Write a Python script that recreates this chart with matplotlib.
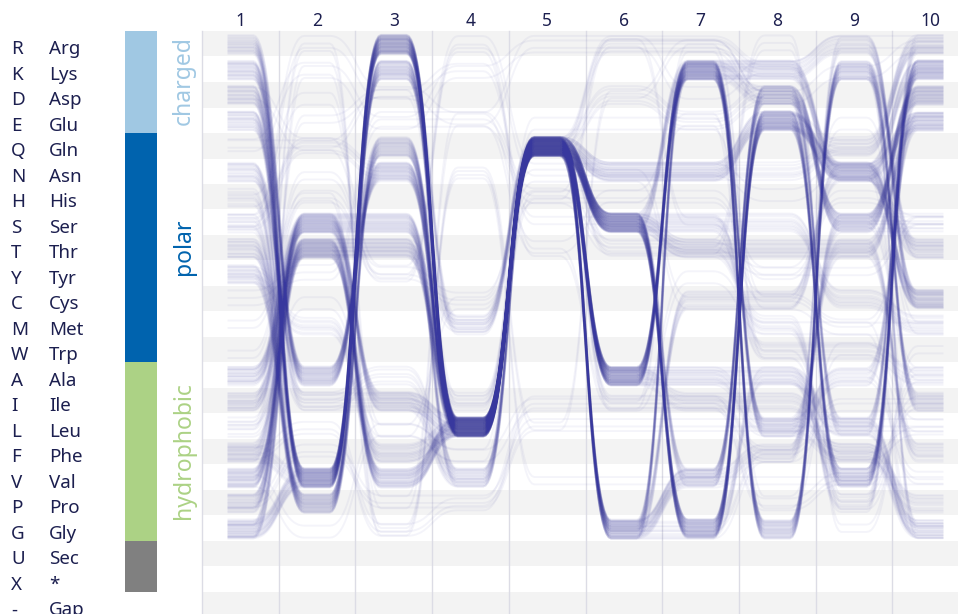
import numpy as np
import matplotlib.pyplot as plt
from matplotlib.collections import LineCollection

plt.rcParams['font.family'] = ['Noto Sans', 'DejaVu Sans']

codes = list("RKDEQNHSTYCMWAILFVPGUX-")
names = ["Arg", "Lys", "Asp", "Glu", "Gln", "Asn", "His", "Ser", "Thr", "Tyr", "Cys", "Met",
         "Trp", "Ala", "Ile", "Leu", "Phe", "Val", "Pro", "Gly", "Sec", "*", "Gap"]
# (label, first row, last row + 1, colour)
groups = [("charged", 0, 4, "#a0c8e3"), ("polar", 4, 13, "#0063ae"),
          ("hydrophobic", 13, 20, "#acd285"), ("", 20, 22, "#808080")]
positions = [str(i) for i in range(1, 11)]

# aligned sequences and how many times each occurs
sequences = [
    "DVRLQSGEVK", "KVRLQSGENK", "EVRLQSGEVK", "EVRLQAKKRC", "RVRLQAKGRC", "RVRLQGKGKT",
    "NVKLQGKGKT", "NVKLQNNEVK", "GVKLQNNEVK", "GVRLQSGENC", "YPKLQAKGKI", "SPKMQAKGKI",
    "SPKMQGVDSA", "TPQLQGVDSD", "TPQLQSTTTE", "HPQLQSTTTE", "NAQLQAKLAE", "KANLQAKLAV",
    "KANLQGKLTF", "RANLQSSSCM", "DANMQAAALG", "VSSLQAAALG", "VSSLQGVFSD", "PSSVQGVFSD",
    "PSSVQNNENC", "FSILQSKKNT", "ISIVQAKDSD", "ASVLQAKDSD", "ASVLQGGEQR", "VTTLQGGEQR",
    "VTTLQSVDLK", "PTTIQAALFG", "GTVLQGCCNE", "GTVLQSTMPR", "ATVLQSTMPR", "ATVLQAIIFP",
    "ITFLQAIIFP", "ITFLQNNNQR", "LTTMQNNNQR", "LTTMQSSWWA", "EIILQSSWWA", "EIILQSGAVD",
    "YMFLQSGAVD", "YMFLQGGFII", "SQNLQRRKNE", "TIAVQDEDSS", "FVRLQTTTTE", "FVRLQIIFKG",
    "SRDERRDKRR", "GKEKRRRDKR", "AHYCHHHYHS", "LCLCNNCCMM", "FLGPIIIPVI", "PFPPLLLLLL",
    "VGLFEEECEM", "QQDKSSTYYS", "CYEEHTTRPA", "MHGNLDRDGW", "WNYRTIRWFL", "QKPETHEPWL",
    "HDLFIIYMMG", "LEDIHRSCMS", "IRGNVVVVVV", "DQYRNNNHNF",
]
counts = [
    18, 15, 3, 12, 6, 6,
    6, 3, 9, 15, 15, 6,
    3, 12, 3, 9, 12, 3,
    12, 12, 6, 9, 9, 3,
    12, 15, 9, 6, 6, 3,
    15, 9, 12, 3, 6, 6,
    6, 6, 3, 3, 6, 3,
    6, 3, 6, 6, 6, 6,
    2, 2, 3, 2, 3, 3,
    2, 2, 3, 2, 2, 2,
    2, 2, 2, 2,
]

W, H = 958, 614
x0, col_w = 202, 76.7
y0, row_h = 31, 25.5
n_rows = len(codes)

fig = plt.figure(figsize=(W / 100, H / 100), dpi=100)
ax = fig.add_axes([x0 / W, 1 - (y0 + n_rows * row_h) / H, 10 * col_w / W, n_rows * row_h / H])
ax.set_xlim(0, 10)
ax.set_ylim(n_rows, 0)
ax.axis('off')

for r in range(0, n_rows, 2):
    ax.axhspan(r, r + 1, color='#f3f3f3', lw=0, zorder=0)
for c in range(10):
    ax.axvline(c, color='#dcdce5', lw=1, zorder=1, clip_on=False)

# one path per sequence: flat inside each column, bezier between columns
row_of = {c: i for i, c in enumerate(codes)}
t = np.linspace(0, 1, 32)
bx = (2 / 3) * (1.5 * t * (1 - t) + t ** 3)
by = 3 * t ** 2 - 2 * t ** 3
paths = []
k = 0
for seq, n in zip(sequences, counts):
    rows = [row_of[ch] for ch in seq]
    for _ in range(n):
        off = 0.15 + 0.76 * ((k * 0.6180339887) % 1)
        k += 1
        xs, ys = [], []
        for i, r in enumerate(rows):
            xs += [i + 1 / 3, i + 2 / 3]
            ys += [r + off, r + off]
            if i + 1 < len(rows):
                xs += list(i + 2 / 3 + bx[1:-1])
                ys += list(r + off + (rows[i + 1] - r) * by[1:-1])
        paths.append(np.column_stack([xs, ys]))

lc = LineCollection(paths, colors=[(0.22, 0.22, 0.62, 0.05)], linewidths=1.4, zorder=2)
ax.add_collection(lc)

txt = '#1c1f4f'
for i, p in enumerate(positions):
    ax.text(i + 0.5, -0.2, p, ha='center', va='baseline', fontsize=12.5, color=txt, clip_on=False)

for r, (c, nm) in enumerate(zip(codes, names)):
    yb = 1 - (y0 + (r + 0.5) * row_h + 10.5) / H
    fig.text(11 / W, yb, c, fontsize=13.5, color=txt, va='baseline', ha='left')
    fig.text(49 / W, yb, nm, fontsize=13.5, color=txt, va='baseline', ha='left')

axb = fig.add_axes([125 / W, 1 - (y0 + n_rows * row_h) / H, 32 / W, n_rows * row_h / H])
axb.set_xlim(0, 1)
axb.set_ylim(n_rows, 0)
axb.axis('off')
for label, a, b, col in groups:
    axb.barh(a, 1, height=b - a, align='edge', color=col, lw=0)
    if label:
        axb.text((190 - 125) / 32, (a + b) / 2 - 0.05, label, rotation=90, rotation_mode='anchor',
                 ha='center', va='baseline', fontsize=16.5, color=col, clip_on=False)

fig.savefig('out.png', dpi=100)
